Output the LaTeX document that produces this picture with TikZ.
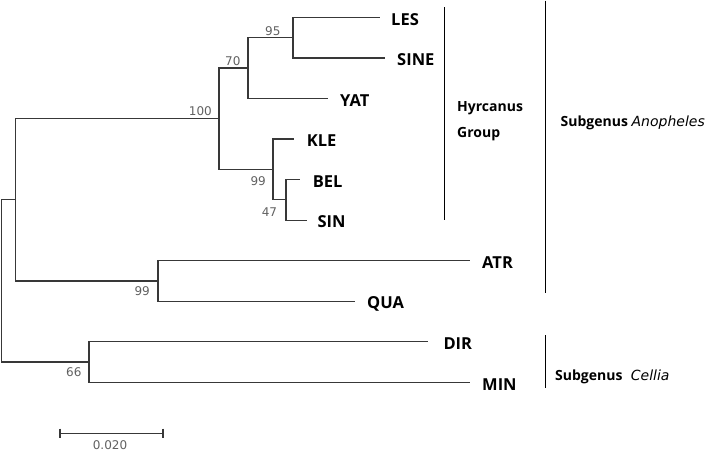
\documentclass[tikz,border=0pt]{standalone}
\usepackage{fontspec}
\setmainfont{Open Sans}
\newfontfamily\numfont{DejaVu Sans}
\newfontfamily\itfont{DejaVu Sans}[UprightFont=*-Oblique]
\begin{document}
\begin{tikzpicture}[x=1pt,y=-1pt,
  branch/.style={draw=black!78, line width=1.2pt},
  grpbar/.style={draw=black, line width=1.4pt},
  leaf/.style={font=\fontsize{16.5}{19}\selectfont\bfseries, inner sep=0pt, anchor=base west},
  boot/.style={font=\numfont\fontsize{12}{14}\selectfont, text=black!62, inner sep=0pt, anchor=base east},
  grp/.style={font=\fontsize{14}{17}\selectfont\bfseries, inner sep=0pt, anchor=base west}]
\useasboundingbox (0,0) rectangle (709,451);

% internal nodes
\coordinate (root) at (1.5,280.9);
\coordinate (nA)   at (15.7,199.8);
\coordinate (nC)   at (89,362.05);
\coordinate (n100) at (219,118.8);
\coordinate (n70)  at (248,68.0);
\coordinate (n95)  at (293,37.6);
\coordinate (n99)  at (273,169.4);
\coordinate (n47)  at (286,199.8);
\coordinate (nAQ)  at (158,280.9);
% leaf ends
\coordinate (lesE)  at (380,17.3);
\coordinate (sineE) at (385,57.9);
\coordinate (yatE)  at (328,98.4);
\coordinate (kleE)  at (294,139.0);
\coordinate (belE)  at (300,179.5);
\coordinate (sinE)  at (306.7,220.1);
\coordinate (atrE)  at (470,260.6);
\coordinate (quaE)  at (355,301.2);
\coordinate (dirE)  at (428.3,341.8);
\coordinate (minE)  at (470,382.3);

% branches
\draw[branch] (root) |- (nA);
\draw[branch] (root) |- (nC);
\draw[branch] (nA) |- (n100);
\draw[branch] (nA) |- (nAQ);
\draw[branch] (n100) |- (n70);
\draw[branch] (n100) |- (n99);
\draw[branch] (n70) |- (n95);
\draw[branch] (n70) |- (yatE);
\draw[branch] (n95) |- (lesE);
\draw[branch] (n95) |- (sineE);
\draw[branch] (n99) |- (kleE);
\draw[branch] (n99) |- (n47);
\draw[branch] (n47) |- (belE);
\draw[branch] (n47) |- (sinE);
\draw[branch] (nAQ) |- (atrE);
\draw[branch] (nAQ) |- (quaE);
\draw[branch] (nC) |- (dirE);
\draw[branch] (nC) |- (minE);

% leaf labels
\node[leaf] (LES)  at (391,25.0)   {LES};
\node[leaf] (SINE) at (397,65.6)   {SINE};
\node[leaf] (YAT)  at (340,106.1)  {YAT};
\node[leaf] (KLE)  at (306.7,146.7){KLE};
\node[leaf] (BEL)  at (312.7,187.2){BEL};
\node[leaf] (SIN)  at (317.3,227.8){SIN};
\node[leaf] (ATR)  at (482,268.3)  {ATR};
\node[leaf] (QUA)  at (367,308.9)  {QUA};
\node[leaf] (DIR)  at (443.3,349.5){DIR};
\node[leaf] (MIN)  at (482,390.0)  {MIN};

% bootstrap values
\node[boot] (b100) at (212,115)   {100};
\node[boot] (b70)  at (240.7,65)  {70};
\node[boot] (b95)  at (280.7,35)  {95};
\node[boot] (b99a) at (266,185)   {99};
\node[boot] (b47)  at (277.3,216) {47};
\node[boot] (b99b) at (150,295.7) {99};
\node[boot] (b66)  at (81.7,376.7){66};

% group bars
\coordinate (hT) at (444.3,7.3);
\coordinate (hB) at (444.3,220);
\coordinate (aT) at (545.7,0.6);
\coordinate (aB) at (545.7,293);
\coordinate (cT) at (545.7,335);
\coordinate (cB) at (545.7,388);
\draw[grpbar] (hT) -- (hB);
\draw[grpbar] (aT) -- (aB);
\draw[grpbar] (cT) -- (cB);

\node[grp] (hyr) at (457,111.7) {Hyrcanus};
\node[grp] (grpl) at (457,137.7) {Group};
\node[grp] (anoph) at (560.5,126.7) {Subgenus {\itfont\mdseries Anopheles}};
\node[grp] (cell) at (555,380) {Subgenus\hspace{0.6em}{\itfont\mdseries Cellia}};

% scale bar
\coordinate (sbL) at (60,433.3);
\coordinate (sbR) at (163,433.3);
\draw[branch] (sbL) -- (sbR);
\draw[branch] ([yshift=4.6pt]sbL) -- ([yshift=-4.6pt]sbL);
\draw[branch] ([yshift=4.6pt]sbR) -- ([yshift=-4.6pt]sbR);
\node[boot, anchor=base] (sbl) at (110,449) {0.020};
\end{tikzpicture}
\end{document}
